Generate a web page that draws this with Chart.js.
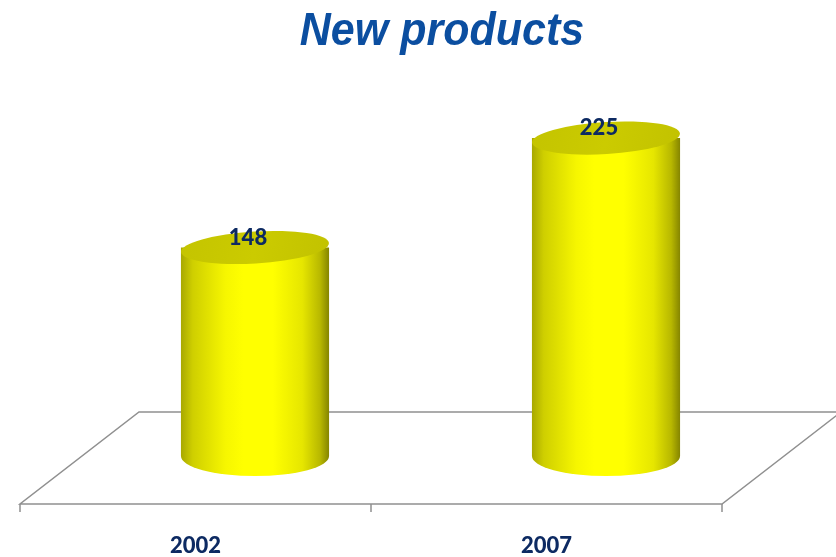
<!DOCTYPE html>
<html>
<head>
<meta charset="utf-8">
<script src="https://cdn.jsdelivr.net/npm/chart.js@4.4.1/dist/chart.umd.min.js"></script>
<style>
html,body{margin:0;padding:0;background:#fff;}
#wrap{width:836px;height:557px;position:relative;}
</style>
</head>
<body>
<div id="wrap"><canvas id="c" width="836" height="557"></canvas></div>
<script>
const titleText = "New products";
const categories = ["2002", "2007"];
const values = [148, 225];

const DEPTH_X = 59.5, DEPTH_Y = 46;

const floorPlugin = {
  id: 'floor3d',
  beforeDatasetsDraw(chart) {
    const {ctx, chartArea: a} = chart;
    const fy = a.bottom + DEPTH_Y, by = a.bottom - DEPTH_Y;
    const fl = a.left - DEPTH_X, fr = a.right - DEPTH_X;
    const bl = a.left + DEPTH_X, br = a.right + DEPTH_X;
    ctx.save();
    ctx.strokeStyle = '#909090';
    ctx.lineWidth = 1.5;
    ctx.beginPath();
    ctx.moveTo(fl, fy); ctx.lineTo(fr, fy); ctx.lineTo(br, by); ctx.lineTo(bl, by); ctx.closePath();
    ctx.stroke();
    const ticks = [fl, (fl + fr) / 2, fr];
    ctx.beginPath();
    ticks.forEach(t => { ctx.moveTo(t, fy); ctx.lineTo(t, fy + 8); });
    ctx.stroke();
    ctx.restore();
  },
  afterDatasetsDraw(chart) {
    const {ctx, chartArea: a} = chart;
    const meta = chart.getDatasetMeta(0);
    ctx.save();
    meta.data.forEach((bar, i) => {
      const p = bar.getProps(['x', 'y', 'base', 'width'], true);
      const rx = p.width / 2;
      const left = p.x - rx, right = p.x + rx;
      const topY = p.y, baseY = p.base - 2;
      const ryT = 16, ryB = 20;
      const g = ctx.createLinearGradient(left, 0, right, 0);
      g.addColorStop(0, '#A8A800');
      g.addColorStop(0.08, '#CFCF00');
      g.addColorStop(0.3, '#F6F600');
      g.addColorStop(0.42, '#FFFF00');
      g.addColorStop(0.62, '#FFFF00');
      g.addColorStop(0.82, '#E6E600');
      g.addColorStop(0.94, '#B8B800');
      g.addColorStop(1, '#858500');
      ctx.fillStyle = g;
      ctx.beginPath();
      ctx.moveTo(left, topY);
      ctx.lineTo(left, baseY);
      ctx.ellipse(p.x, baseY, rx, ryB, 0, Math.PI, 0, true);
      ctx.lineTo(right, topY);
      ctx.closePath();
      ctx.fill();
      const tg = ctx.createLinearGradient(left, topY - ryT, right, topY + ryT);
      tg.addColorStop(0, '#C4C400');
      tg.addColorStop(0.5, '#CBCB00');
      tg.addColorStop(1, '#C2C200');
      ctx.fillStyle = tg;
      ctx.beginPath();
      ctx.ellipse(p.x, topY, rx, ryT, -0.06, 0, Math.PI * 2);
      ctx.fill();
      ctx.fillStyle = '#0D2A62';
      ctx.font = '900 22px Lato';
      ctx.textAlign = 'center';
      ctx.textBaseline = 'middle';
      ctx.fillText(String(values[i]), p.x - 7, topY - 10);
      ctx.fillText(categories[i], p.x - DEPTH_X, a.bottom + 88);
    });
    ctx.fillStyle = '#0B4EA0';
    ctx.font = 'italic bold 46px "Liberation Sans", Arial, sans-serif';
    ctx.textAlign = 'center';
    ctx.textBaseline = 'alphabetic';
    ctx.translate(442, 45);
    ctx.scale(0.935, 1);
    ctx.fillText(titleText, 0, 0);
    ctx.restore();
  }
};

new Chart(document.getElementById('c'), {
  type: 'bar',
  data: {
    labels: categories,
    datasets: [{
      data: values,
      backgroundColor: 'rgba(0,0,0,0)',
      borderWidth: 0,
      barPercentage: 0.422,
      categoryPercentage: 1.0
    }]
  },
  options: {
    responsive: false,
    animation: false,
    layout: { padding: { left: 79.5, right: 54.5, top: 102.5, bottom: 99 } },
    plugins: { legend: { display: false }, title: { display: false }, tooltip: { enabled: false } },
    scales: {
      x: { display: false },
      y: { display: false, min: 0, max: 250 }
    }
  },
  plugins: [floorPlugin]
});
</script>
</body>
</html>
